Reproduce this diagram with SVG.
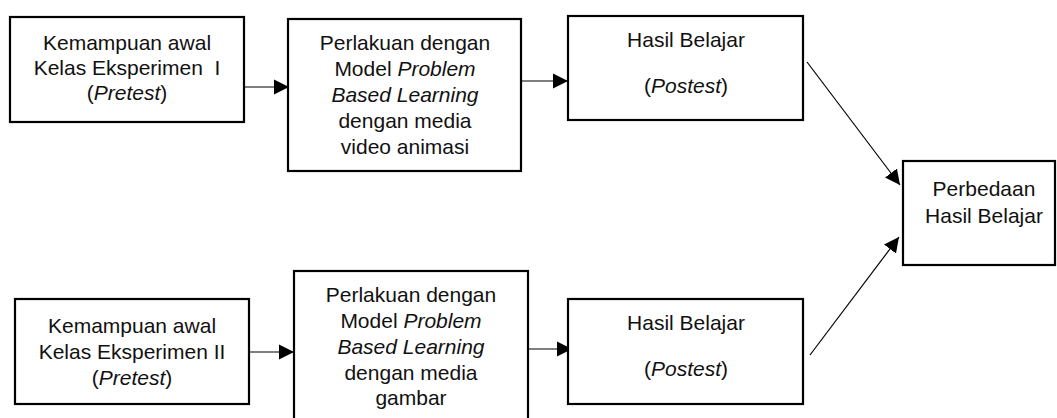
<svg xmlns="http://www.w3.org/2000/svg" width="1057" height="418" viewBox="0 0 1057 418">
<style>
.box{fill:#fff;stroke:#000;stroke-width:2.2}
.t{font-family:"Liberation Sans",Arial,sans-serif;font-size:21px;fill:#111;text-anchor:middle}
.i{font-style:italic}
.c{stroke:#000;stroke-width:1.2;fill:none}
</style>
<defs>
<marker id="ah" markerUnits="userSpaceOnUse" markerWidth="16" markerHeight="16" viewBox="0 0 16 16" refX="15" refY="8" orient="auto">
<path d="M0,0.5 L15,8 L0,15.5 Z" fill="#000"/>
</marker>
</defs>
<rect width="1057" height="418" fill="#fff"/>
<g id="connectors">
<line class="c" x1="245" y1="87" x2="289" y2="87" marker-end="url(#ah)"/>
<line class="c" x1="522" y1="81" x2="568" y2="81" marker-end="url(#ah)"/>
<line class="c" x1="807" y1="62" x2="900" y2="185" marker-end="url(#ah)"/>
<line class="c" x1="810" y1="355" x2="899" y2="237" marker-end="url(#ah)"/>
<line class="c" x1="250" y1="352" x2="294" y2="352" marker-end="url(#ah)"/>
<line class="c" x1="529" y1="349" x2="572" y2="349" marker-end="url(#ah)"/>
</g>
<g id="n1">
<rect class="box" x="10" y="17" width="234" height="105"/>
<text class="t" x="127" y="50">Kemampuan awal</text>
<text class="t" x="127" y="75" xml:space="preserve">Kelas Eksperimen  I</text>
<text class="t" x="127" y="100">(<tspan class="i">Pretest</tspan>)</text>
</g>
<g id="n2">
<rect class="box" x="288" y="19" width="233" height="152"/>
<text class="t" x="405" y="50">Perlakuan dengan</text>
<text class="t" x="405" y="76">Model <tspan class="i">Problem</tspan></text>
<text class="t" x="405" y="102"><tspan class="i">Based Learning</tspan></text>
<text class="t" x="405" y="128">dengan media</text>
<text class="t" x="405" y="154">video animasi</text>
</g>
<g id="n3">
<rect class="box" x="568" y="16" width="235" height="104"/>
<text class="t" x="686" y="47">Hasil Belajar</text>
<text class="t" x="686" y="93">(<tspan class="i">Postest</tspan>)</text>
</g>
<g id="n4">
<rect class="box" x="903" y="161" width="152" height="104"/>
<text class="t" x="984" y="196">Perbedaan</text>
<text class="t" x="984" y="223">Hasil Belajar</text>
</g>
<g id="n5">
<rect class="box" x="15" y="299" width="234" height="105"/>
<text class="t" x="132" y="333">Kemampuan awal</text>
<text class="t" x="132" y="359">Kelas Eksperimen II</text>
<text class="t" x="132" y="385">(<tspan class="i">Pretest</tspan>)</text>
</g>
<g id="n6">
<rect class="box" x="294" y="271" width="234" height="152"/>
<text class="t" x="411" y="302">Perlakuan dengan</text>
<text class="t" x="411" y="328">Model <tspan class="i">Problem</tspan></text>
<text class="t" x="411" y="354"><tspan class="i">Based Learning</tspan></text>
<text class="t" x="411" y="380">dengan media</text>
<text class="t" x="411" y="405">gambar</text>
</g>
<g id="n7">
<rect class="box" x="568" y="299" width="235" height="105"/>
<text class="t" x="686" y="330">Hasil Belajar</text>
<text class="t" x="686" y="376">(<tspan class="i">Postest</tspan>)</text>
</g>
</svg>
